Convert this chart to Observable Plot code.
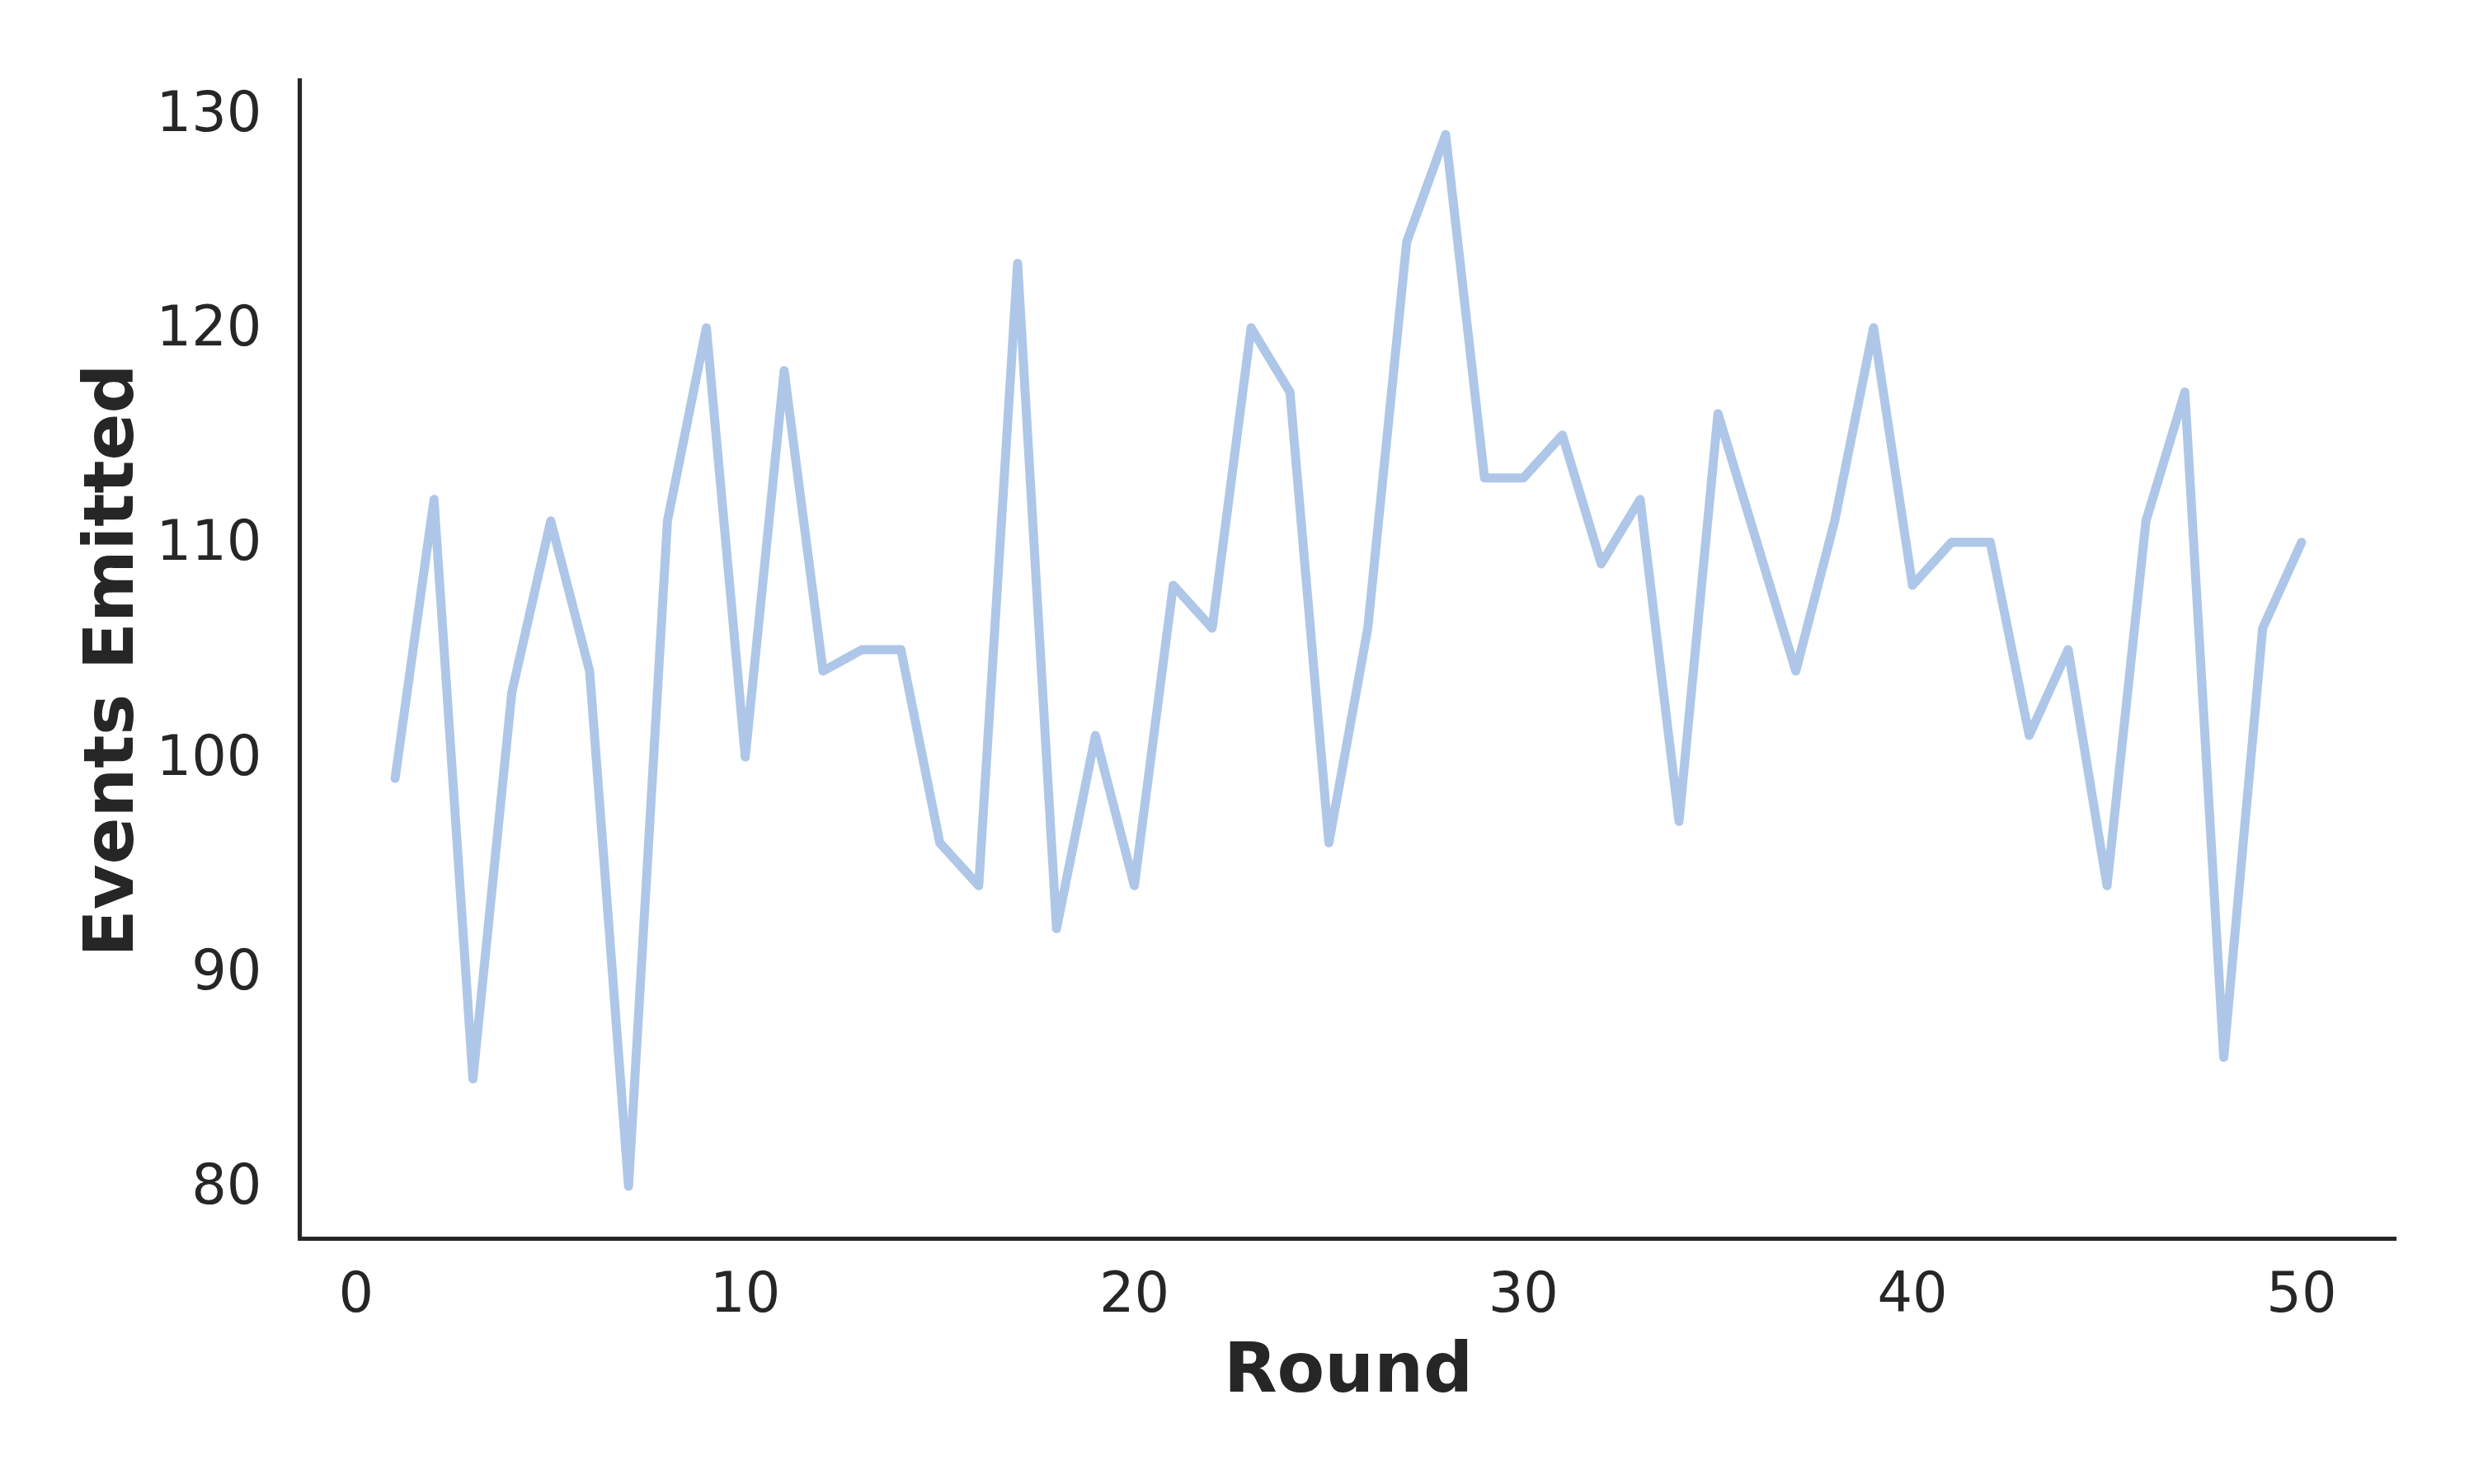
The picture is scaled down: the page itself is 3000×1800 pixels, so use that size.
<!DOCTYPE html>
<html>
<head>
<meta charset="utf-8">
<script src="https://cdn.jsdelivr.net/npm/d3@7"></script>
<script src="https://cdn.jsdelivr.net/npm/@observablehq/plot@0.6"></script>
<style>
  html, body { margin: 0; padding: 0; background: #ffffff; }
  #chart { width: 3000px; height: 1800px; }
</style>
</head>
<body>
<div id="chart"></div>
<script>
const rounds = [1,2,3,4,5,6,7,8,9,10,11,12,13,14,15,16,17,18,19,20,21,22,23,24,25,26,27,28,29,30,31,32,33,34,35,36,37,38,39,40,41,42,43,44,45,46,47,48,49,50];
const events = [99,112,85,103,111,104,80,111,120,100,118,104,105,105,96,94,123,92,101,94,108,106,120,117,96,106,124,129,113,113,115,109,112,97,116,110,104,111,120,108,110,110,101,105,94,111,117,86,106,110];
const xTicks = [0,10,20,30,40,50];
const yTicks = [80,90,100,110,120,130];
const xLabel = "Round";
const yLabel = "Events Emitted";

const data = rounds.map((r, i) => ({round: r, events: events[i]}));

function padded(arr) {
  const lo = d3.min(arr), hi = d3.max(arr), m = (hi - lo) * 0.05;
  return [lo - m, hi + m];
}
const xDomain = padded(rounds);
const yDomain = padded(events);

const ink = "#262626";
const chart = Plot.plot({
  width: 3000,
  height: 1800,
  marginLeft: 363,
  marginRight: 94,
  marginTop: 99,
  marginBottom: 298,
  style: {fontFamily: "'DejaVu Sans', sans-serif", background: "#ffffff", color: ink},
  x: {domain: xDomain, label: null},
  y: {domain: yDomain, label: null},
  marks: [
    Plot.axisX({ticks: xTicks, tickSize: 0, tickPadding: 41, fontSize: 67, fill: ink, label: null}),
    Plot.axisY({ticks: yTicks, tickSize: 0, tickPadding: 46, fontSize: 67, fill: ink, label: null}),
    Plot.line(data, {x: "round", y: "events", stroke: "#aec7e8", strokeWidth: 11, strokeLinecap: "round", strokeLinejoin: "round"}),
    Plot.ruleX([xDomain[0]], {stroke: ink, strokeWidth: 5.2, insetTop: -4}),
    Plot.ruleY([yDomain[0]], {stroke: ink, strokeWidth: 5.2, insetLeft: -2}),
    Plot.text([xLabel], {frameAnchor: "bottom", textAnchor: "middle", lineAnchor: "bottom", dy: 185, fontSize: 84, fontWeight: "bold", fill: ink, text: d => d}),
    Plot.text([yLabel], {frameAnchor: "left", textAnchor: "middle", lineAnchor: "bottom", rotate: -90, dx: -203, fontSize: 84, fontWeight: "bold", fill: ink, text: d => d})
  ]
});
document.getElementById("chart").appendChild(chart);
</script>
</body>
</html>
